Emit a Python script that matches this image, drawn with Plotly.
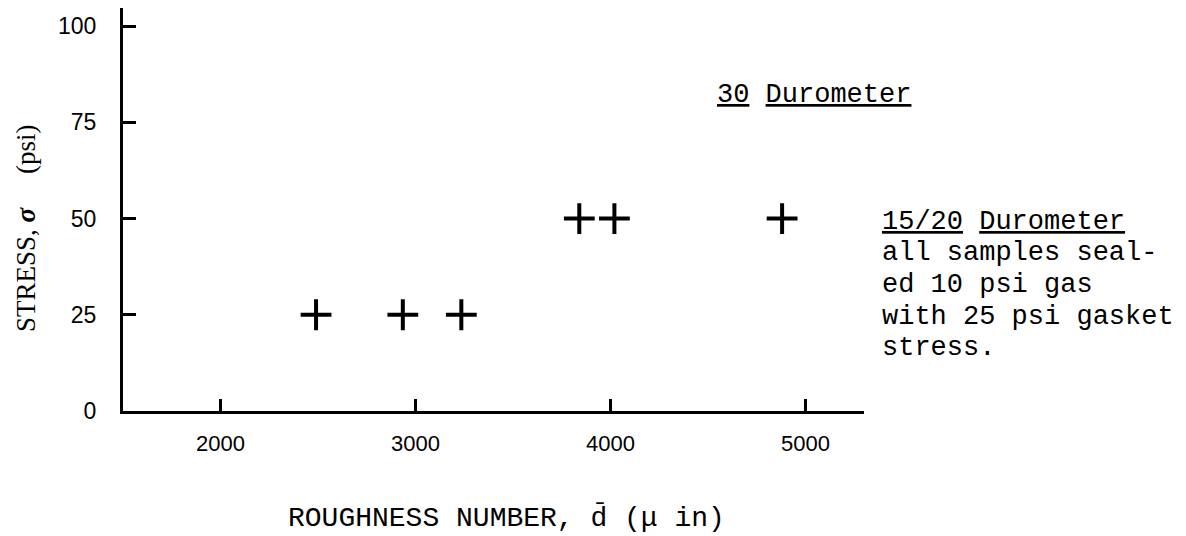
import plotly.graph_objects as go

# Data
roughness = [2490, 2935, 3235, 3840, 4020, 4880]
stress = [25, 25, 25, 50, 50, 50]
x_ticks = [2000, 3000, 4000, 5000]
y_ticks = [0, 25, 50, 75, 100]

note_lines = ["<u>15/20</u> <u>Durometer</u>", "all samples seal-",
              "ed 10 psi gas", "with 25 psi gasket", "stress."]

fig = go.Figure()
fig.add_trace(go.Scatter(
    x=roughness, y=stress, mode="markers",
    marker=dict(symbol="cross-thin", size=22, color="black",
                line=dict(color="black", width=4)),
    showlegend=False, hoverinfo="x+y",
))

mono = "Liberation Mono"
fig.update_layout(
    width=1178, height=528,
    margin=dict(l=115, r=322, t=0, b=125),
    paper_bgcolor="white", plot_bgcolor="white",
    xaxis=dict(range=[1500, 5300], tickvals=x_ticks,
               ticktext=[str(v) for v in x_ticks],
               showline=True, linecolor="black", linewidth=3,
               ticks="inside", ticklen=12, tickwidth=3, tickcolor="black",
               showgrid=False, zeroline=False,
               tickfont=dict(family="Liberation Sans", size=22, color="black"),
               ticklabelstandoff=11),
    yaxis=dict(range=[0, 104.7], tickvals=y_ticks,
               ticktext=[str(v) for v in y_ticks],
               showline=True, linecolor="black", linewidth=3,
               ticks="inside", ticklen=13, tickwidth=3, tickcolor="black",
               showgrid=False, zeroline=False,
               tickfont=dict(family="Liberation Sans", size=23, color="black"),
               ticklabelstandoff=19),
)

annotations = [
    dict(text="<u>30</u> <u>Durometer</u>", x=0.799, y=0.784,
         xanchor="left", yanchor="middle",
         font=dict(family=mono, size=27, color="black")),
    dict(text="ROUGHNESS NUMBER, d\u0304 (\u03bc in)", x=0.518, y=-0.2655,
         xanchor="center", yanchor="middle",
         font=dict(family=mono, size=28, color="black")),
    dict(text="STRESS, <b><i>\u03c3</i></b>" + "\u00a0" * 5 + "(psi)",
         x=-0.131, y=0.454,
         xanchor="center", yanchor="middle", textangle=-90,
         font=dict(family="Liberation Serif", size=27, color="black")),
]
line_y = [0.469, 0.392, 0.3127, 0.2333, 0.1563]
for txt, yy in zip(note_lines, line_y):
    annotations.append(dict(text=txt, x=1.0216, y=yy, xanchor="left",
                            yanchor="middle", align="left",
                            font=dict(family=mono, size=27, color="black")))
for a in annotations:
    a.update(xref="paper", yref="paper", showarrow=False)
fig.update_layout(annotations=annotations)

fig.write_html("out.html")
